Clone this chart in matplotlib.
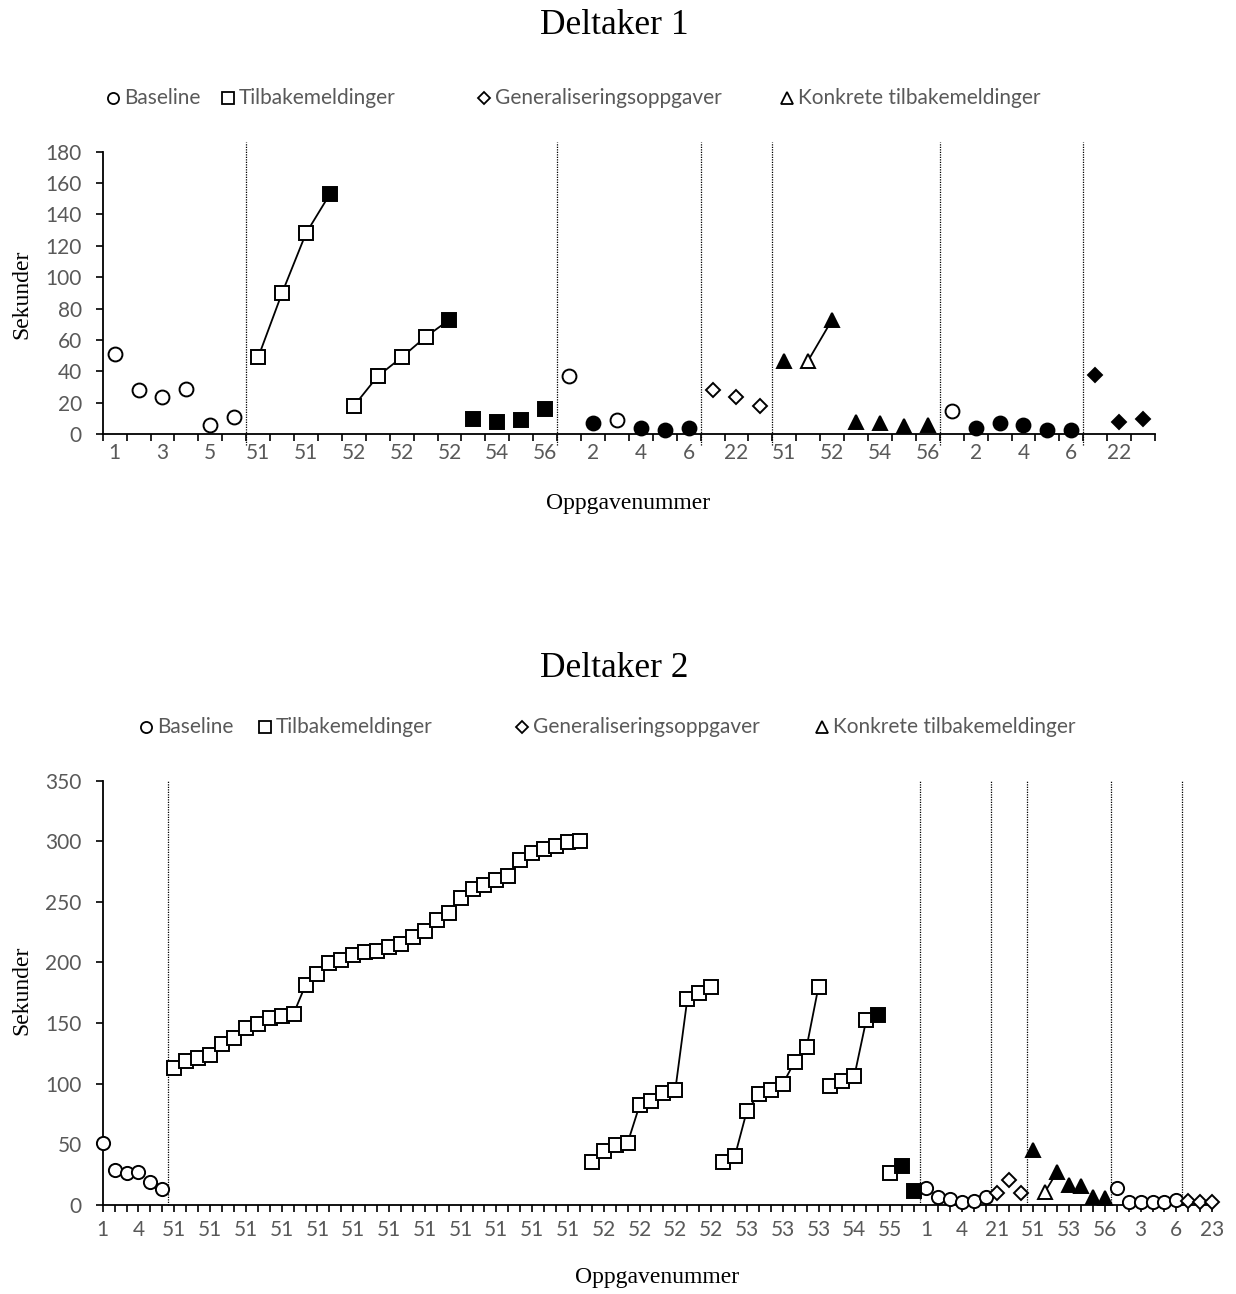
#!/usr/bin/env python3

import matplotlib
matplotlib.use("Agg")
from matplotlib import pyplot as plt
from matplotlib.lines import Line2D
import numpy as np

# ---- Deltaker 1 ----
d1_labels = ["1", "3", "5", "51", "51", "52", "52", "52", "54", "56", "2",
             "4", "6", "22", "51", "52", "54", "56", "2", "4", "6", "22"]
d1_values = [51, 28, 24, 29, 6, 11,
             49, 90, 128, 153,
             18, 37, 49, 62, 73,
             10, 8, 9, 16,
             37, 7, 9, 4, 3, 4,
             28, 24, 18,
             47, 47, 73, 8, 7, 5, 6,
             15, 4, 7, 6, 3, 3,
             38, 8, 10]
# B = baseline, T = tilbakemeldinger, G = generalisering, K = konkrete
d1_phase = "B" * 6 + "T" * 13 + "B" * 6 + "G" * 3 + "K" * 7 + "B" * 6 + "G" * 3
d1_filled = "000000" "0001" "00001" "1111" "010111" "000" "1011111" "011111" "111"
d1_lines = [(7, 10), (11, 15), (30, 31)]

# ---- Deltaker 2 ----
d2_labels = ["1", "4"] + ["51"] * 12 + ["52"] * 4 + ["53"] * 3 + \
            ["54", "55", "1", "4", "21", "51", "53", "56", "3", "6", "23"]
d2_values = [51, 29, 26, 27, 19, 13,
             112.5, 118.6, 121, 123.3, 132.6, 137.9, 145.6, 148.9, 153.8,
             155.8, 157.7, 181.3, 190.7, 199.2, 201.9, 205.8, 208.3, 209.7,
             212.7, 215.2, 220.7, 225.9, 235, 240.8, 253.4, 260.3, 264.2,
             268.3, 271, 284.5, 290, 293.3, 296.1, 299.1, 300.2,
             35, 44, 49, 51, 82, 86, 92.5, 95, 169.5, 174.4, 180,
             35, 40.5, 77.6, 91, 95, 99.6, 118, 130, 180,
             98, 102, 106, 152.4, 156.6,
             26, 32, 11.6,
             14, 6, 4.7, 2.2, 3, 6,
             10, 20.5, 10,
             45, 10.7, 27.2, 16.2, 15.4, 6.6, 5.2,
             14, 2.5, 2.5, 2.5, 2.5, 3.9,
             3.3, 2.5, 2.5]
d2_phase = "B" * 6 + "T" * 63 + "B" * 6 + "G" * 3 + "K" * 7 + "B" * 6 + "G" * 3
d2_filled = "000000" + "0" * 59 + "1011" + "000000" "000" "1011111" "000000" "000"
d2_lines = [(7, 41), (42, 52), (53, 61), (62, 66), (67, 68), (80, 81)]

legend_names = ["Baseline", "Tilbakemeldinger", "Generaliseringsoppgaver",
                "Konkrete tilbakemeldinger"]

MARKERS = {"B": "o", "T": "s", "G": "D", "K": "^"}
GRAY = "#595959"
SANS = "Lato"
SERIF = "Liberation Serif"
W, H = 1236, 1294


def px(x, y):
    # pixel position -> figure fraction
    return x / W, 1 - y / H


def draw_series(ax, values, phase, filled, lines, sizes):
    x = np.arange(1, len(values) + 1)
    y = np.array(values, dtype=float)
    ph = np.array(list(phase))
    fl = np.array([c == "1" for c in filled])

    for a, b in lines:
        ax.plot(x[a - 1:b], y[a - 1:b], color="black", lw=1.3, zorder=2)

    for key, m in MARKERS.items():
        for f in (False, True):
            mask = (ph == key) & (fl == f)
            if not mask.any():
                continue
            ax.plot(x[mask], y[mask], ls="none", marker=m, ms=sizes[key],
                    mfc="black" if f else "white", mec="black", mew=1.4,
                    clip_on=False, zorder=3)

    # dotted separators where the phase changes
    return np.nonzero(ph[1:] != ph[:-1])[0] + 1.5


def style_axes(ax):
    for s in ("top", "right"):
        ax.spines[s].set_visible(False)
    for s in ("left", "bottom"):
        ax.spines[s].set_linewidth(1.3)
    ax.tick_params(axis="y", direction="out", length=5, width=1.2,
                   labelsize=15, labelcolor=GRAY, pad=10)
    for lab in ax.get_yticklabels():
        lab.set_family(SANS)


def legend_row(fig, ypix, items):
    sizes = {"o": 8, "s": 8, "D": 6, "^": 8}
    for (m, label, xpix) in items:
        fig.add_artist(Line2D([xpix / W], [1 - ypix / H], transform=fig.transFigure,
                              ls="none", marker=m, ms=sizes[m], mfc="white",
                              mec="black", mew=1.3))
        fig.text((xpix + 11) / W, 1 - ypix / H, label, family=SANS, fontsize=15,
                 color=GRAY, va="center", ha="left")


def main():
    fig = plt.figure(figsize=(W / 100, H / 100), dpi=100)

    # ---------------- Deltaker 1 ----------------
    ax1 = fig.add_axes([102.7 / W, 1 - 434.3 / H, (1155 - 102.7) / W, 282.6 / H])
    n1 = len(d1_values)
    seps = draw_series(ax1, d1_values, d1_phase, d1_filled, d1_lines,
                       {"B": 10, "T": 10, "G": 7, "K": 9.5})
    ax1.vlines(seps, -7, 186, colors="black", lw=0.9, linestyles=(0, (1, 1)),
               clip_on=False, zorder=1)
    ax1.set_xlim(0.5, n1 + 0.5)
    ax1.set_ylim(0, 180)
    ax1.set_yticks(np.arange(0, 181, 20))
    ax1.set_xticks(np.arange(1, n1 + 1, 2))
    ax1.set_xticklabels(d1_labels)
    ax1.set_xticks(np.arange(0.5, n1 + 1, 1), minor=True)
    ax1.tick_params(axis="x", which="major", length=0, labelsize=15,
                    labelcolor=GRAY, pad=6)
    ax1.tick_params(axis="x", which="minor", direction="out", length=5, width=1.2)
    style_axes(ax1)
    for lab in ax1.get_xticklabels():
        lab.set_family(SANS)

    fig.text(*px(614, 25), "Deltaker 1", family=SERIF, fontsize=25.5,
             ha="center", va="center")
    fig.text(*px(22, 294), "Sekunder", family=SERIF, fontsize=17,
             rotation=90, ha="center", va="center")
    fig.text(*px(628, 504), "Oppgavenummer", family=SERIF, fontsize=17,
             ha="center", va="center")
    legend_row(fig, 98, [("o", legend_names[0], 113), ("s", legend_names[1], 228),
                         ("D", legend_names[2], 484), ("^", legend_names[3], 787)])

    # ---------------- Deltaker 2 ----------------
    ax2 = fig.add_axes([102.7 / W, 1 - 1204.7 / H, (1212.2 - 102.7) / W, 424 / H])
    n2 = len(d2_values)
    seps = draw_series(ax2, d2_values, d2_phase, d2_filled, d2_lines,
                       {"B": 9.5, "T": 9.5, "G": 7.5, "K": 9.5})
    ax2.vlines(seps, 0, 350, colors="black", lw=0.9, linestyles=(0, (1, 1)),
               clip_on=False, zorder=1)
    ax2.set_xlim(1, n2)
    ax2.set_ylim(0, 350)
    ax2.set_yticks(np.arange(0, 351, 50))
    ax2.set_xticks(np.arange(1, n2 + 1, 3))
    ax2.set_xticklabels(d2_labels)
    ax2.set_xticks(np.arange(1, n2 + 1, 1), minor=True)
    ax2.tick_params(axis="x", which="both", direction="out", length=5, width=1.2)
    ax2.tick_params(axis="x", which="major", labelsize=15, labelcolor=GRAY, pad=6)
    style_axes(ax2)
    for lab in ax2.get_xticklabels():
        lab.set_family(SANS)

    fig.text(*px(614, 668), "Deltaker 2", family=SERIF, fontsize=25.5,
             ha="center", va="center")
    fig.text(*px(22, 990), "Sekunder", family=SERIF, fontsize=17,
             rotation=90, ha="center", va="center")
    fig.text(*px(657, 1278), "Oppgavenummer", family=SERIF, fontsize=17,
             ha="center", va="center")
    legend_row(fig, 727, [("o", legend_names[0], 146), ("s", legend_names[1], 265),
                          ("D", legend_names[2], 522), ("^", legend_names[3], 822)])

    fig.savefig("out.png", dpi=100)


if __name__ == "__main__":
    main()
